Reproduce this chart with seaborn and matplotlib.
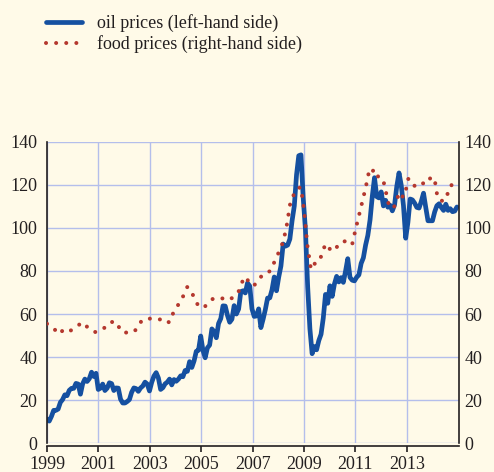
import matplotlib.pyplot as plt
import seaborn as sns
import pandas as pd
import numpy as np

# monthly oil prices, Jan 1999 - May 2014 (left axis)
oil = [11.1, 10.3, 12.5, 15.3, 15.3, 15.9, 19.0, 20.3, 22.5, 22.1, 24.6, 25.5,
       25.5, 27.8, 27.5, 22.8, 27.6, 29.8, 28.7, 30.0, 33.0, 31.0, 32.5, 25.0,
       25.6, 27.5, 24.5, 25.6, 28.1, 27.7, 24.5, 25.7, 25.6, 20.5, 18.7, 18.7,
       19.4, 20.3, 23.7, 25.7, 25.4, 24.1, 25.7, 26.6, 28.4, 27.5, 24.3, 28.3,
       31.2, 32.8, 30.3, 25.0, 25.8, 27.6, 28.4, 29.8, 27.1, 29.6, 28.8, 29.8,
       31.3, 30.9, 33.8, 33.4, 37.9, 35.2, 38.2, 42.7, 43.2, 49.8, 43.1, 39.7,
       44.3, 45.6, 53.1, 51.9, 49.0, 55.6, 57.9, 63.8, 63.7, 59.4, 56.2, 57.6,
       63.9, 60.0, 62.3, 70.4, 70.8, 69.8, 74.4, 73.0, 62.4, 58.9, 59.1, 62.4,
       53.7, 57.6, 62.1, 67.4, 67.5, 71.3, 77.2, 70.8, 77.1, 82.3, 92.5, 91.5,
       92.0, 94.8, 103.3, 110.2, 124.6, 133.5, 133.9, 113.9, 99.1, 72.7, 53.2, 41.6,
       44.9, 43.4, 47.7, 50.6, 58.1, 69.1, 65.0, 73.1, 68.2, 73.9, 77.5, 74.9,
       76.9, 74.7, 79.9, 85.7, 77.0, 75.7, 75.4, 77.1, 78.2, 83.5, 86.1, 92.0,
       96.5, 103.7, 114.6, 123.3, 114.5, 113.9, 116.7, 110.2, 112.8, 109.6, 110.5, 107.9,
       110.7, 119.3, 125.5, 119.8, 110.3, 95.2, 102.6, 113.4, 113.0, 111.5, 109.5, 109.2,
       112.3, 116.1, 109.5, 103.3, 103.3, 103.3, 107.4, 110.3, 111.2, 109.5, 108.1, 111.0,
       108.1, 108.9, 107.5, 107.8, 109.7]

# food prices (right axis)
food_years = [1999.0, 1999.25, 1999.5, 1999.65, 1999.93, 2000.18, 2000.41, 2000.63, 2000.89,
              2001.13, 2001.37, 2001.57, 2001.75, 2001.89, 2002.18, 2002.42, 2002.57, 2002.77,
              2003.05, 2003.35, 2003.56, 2003.75, 2003.88, 2004.02, 2004.2, 2004.46, 2004.63,
              2004.76, 2004.91, 2005.13, 2005.33, 2005.47, 2005.76, 2006.04, 2006.24, 2006.45,
              2006.56, 2006.69, 2006.9, 2007.04, 2007.24, 2007.42, 2007.68, 2007.95, 2008.2,
              2008.33, 2008.48, 2008.6, 2008.75, 2008.88, 2009.0, 2009.13, 2009.27, 2009.44,
              2009.6, 2009.82, 2009.91, 2010.04, 2010.22, 2010.37, 2010.62, 2010.78, 2010.88,
              2011.0, 2011.18, 2011.4, 2011.53, 2011.6, 2011.72, 2011.81, 2011.91, 2012.09,
              2012.3, 2012.48, 2012.6, 2012.71, 2012.86, 2012.99, 2013.05, 2013.16, 2013.32,
              2013.54, 2013.81, 2013.94, 2014.1, 2014.2, 2014.41, 2014.53, 2014.67, 2014.75,
              2014.85]
food = [55.5, 53.3, 50.7, 53.1, 52.4, 54.6, 56.1, 53.1, 51.6,
        53.2, 54.1, 56.8, 55.1, 51.8, 51.2, 52.1, 55.4, 57.7,
        57.9, 57.4, 57.9, 56.1, 59.7, 63.0, 65.7, 72.6, 70.1,
        66.7, 63.3, 63.3, 65.9, 67.2, 67.5, 66.4, 67.7, 70.3,
        74.0, 77.3, 74.5, 73.0, 76.0, 78.7, 79.9, 86.8, 93.9,
        101.3, 112.6, 115.3, 118.4, 118.8, 108.5, 91.9, 80.7, 83.8,
        84.6, 92.1, 92.4, 89.3, 90.0, 92.9, 93.9, 94.4, 92.7,
        99.0, 107.8, 118.7, 126.3, 125.1, 127.1, 126.5, 122.7, 121.8,
        110.6, 109.0, 112.6, 116.5, 114.2, 118.8, 122.7, 122.6, 119.1,
        120.7, 120.6, 123.8, 121.2, 113.7, 112.3, 115.3, 116.5, 120.4,
        124.0]

year_ticks = [1999, 2001, 2003, 2005, 2007, 2009, 2011, 2013]
value_ticks = [0, 20, 40, 60, 80, 100, 120, 140]

bg = '#FFFAE8'
ink = '#231F20'
oil_color = '#1550A0'
food_color = '#B4382E'

sns.set_theme(style='white')
plt.rcParams['font.family'] = ['Liberation Serif', 'DejaVu Serif']

df_oil = pd.DataFrame({'year': np.linspace(1999, 2014.95, len(oil)), 'price': oil})
df_food = pd.DataFrame({'year': food_years, 'price': food})

fig = plt.figure(figsize=(4.94, 4.72), dpi=100, facecolor=bg)
ax = fig.add_axes([47/494, 1 - 443.3/472, 412/494, 301.6/472])
ax.set_facecolor(bg)
ax2 = ax.twinx()

sns.lineplot(data=df_oil, x='year', y='price', ax=ax, color=oil_color,
             linewidth=3.4, label='oil prices (left-hand side)', legend=False)
sns.lineplot(data=df_food, x='year', y='price', ax=ax2, color=food_color,
             linewidth=2.9, linestyle=(0, (0.01, 2.5)), dash_capstyle='round',
             label='food prices (right-hand side)', legend=False)

for a in (ax, ax2):
    a.set_xlim(1999, 2015.03)
    a.set_ylim(0, 140)
    a.set_yticks(value_ticks)
    a.set_xlabel('')
    a.set_ylabel('')
    a.spines['top'].set_visible(False)

ax.set_xticks(year_ticks)
ax.grid(True, color='#B4BEEB', linewidth=1.0)
ax.set_axisbelow(True)

ax.spines['right'].set_visible(False)
ax2.spines['left'].set_visible(False)
ax2.spines['bottom'].set_visible(False)
for side in ('left', 'bottom'):
    ax.spines[side].set_color(ink)
    ax.spines[side].set_linewidth(1.2)
ax.spines['bottom'].set_position(('outward', 2))
ax2.spines['right'].set_color(ink)
ax2.spines['right'].set_linewidth(1.2)

ax.tick_params(axis='y', length=0, pad=7, labelsize=13, labelcolor=ink)
ax.tick_params(axis='x', direction='out', length=4.5, width=1.2, color=ink,
               bottom=True, pad=3, labelsize=13, labelcolor=ink)
ax2.tick_params(axis='y', length=0, pad=4, labelsize=13, labelcolor=ink)

h1, l1 = ax.get_legend_handles_labels()
h2, l2 = ax2.get_legend_handles_labels()
fig.legend(h1 + h2, l1 + l2, loc='upper left', bbox_to_anchor=(46/494, 1 - 14/472),
           frameon=False, fontsize=13, handlelength=2.0, handletextpad=0.85,
           labelspacing=0.2, borderpad=0, borderaxespad=0, labelcolor=ink)

fig.savefig('out.png', dpi=100, facecolor=bg)
